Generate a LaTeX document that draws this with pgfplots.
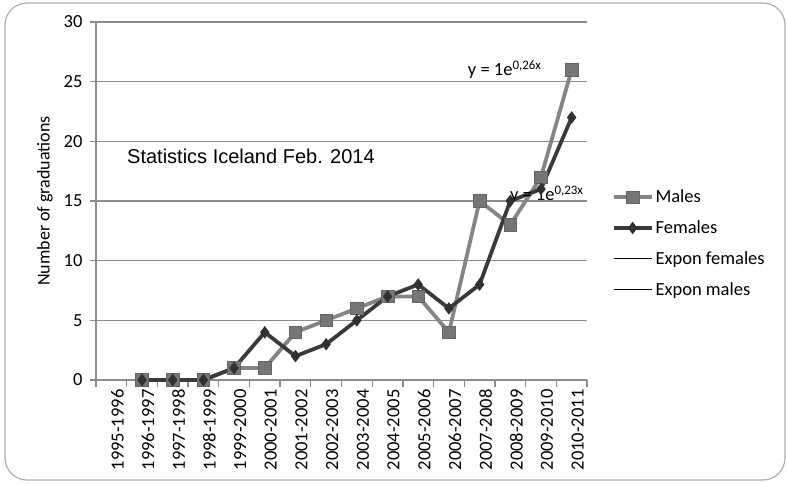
\documentclass[border=0pt]{standalone}
\usepackage{fontspec}
\setmainfont{Carlito}
\newfontfamily\arial{Liberation Sans}
\usepackage{pgfplots}
\pgfplotsset{compat=1.18}
\definecolor{malec}{HTML}{858585}
\definecolor{malem}{HTML}{767676}
\definecolor{femc}{HTML}{3A3A3A}
\definecolor{gridc}{HTML}{8C8C8C}
\begin{document}
\begin{tikzpicture}[x=1pt,y=1pt]
\useasboundingbox (0,0) rectangle (787,483);
\draw[gridc!70, line width=1.2pt, rounded corners=22pt] (5,3) rectangle (785,480);
\begin{axis}[
  at={(96pt,103pt)}, anchor=south west,
  scale only axis, width=491pt, height=358pt,
  xmin=-0.5, xmax=15.5, ymin=0, ymax=30,
  axis x line*=bottom, axis y line*=left,
  axis line style={gridc, line width=1.3pt, -},
  xtick={0,...,15},
  xticklabels={1995-1996,1996-1997,1997-1998,1998-1999,1999-2000,2000-2001,2001-2002,2002-2003,2003-2004,2004-2005,2005-2006,2006-2007,2007-2008,2008-2009,2009-2010,2010-2011},
  major x tick style={draw=none},
  minor xtick={-0.5,0.5,...,15.5},
  minor x tick style={gridc, line width=1.3pt},
  minor tick length=7pt,
  tick align=outside,
  ytick={0,5,...,30},
  major y tick style={gridc, line width=1.3pt},
  major tick length=6pt,
  ymajorgrids, grid style={gridc, line width=1.2pt},
  xticklabel style={rotate=90, anchor=east, yshift=-6pt, font=\fontsize{18.5}{20}\selectfont},
  yticklabel style={font=\fontsize{18.5}{20}\selectfont, xshift=-4pt},
  /pgf/number format/assume math mode=true,
  ylabel={Number of graduations},
  ylabel style={at={(axis description cs:-0.104,0.5)}, anchor=center, font=\fontsize{18}{20}\selectfont},
  legend style={at={(axis description cs:1.05,0.537)}, anchor=north west, draw=none, fill=none,
    font=\fontsize{18.5}{20}\selectfont, row sep=12.5pt, inner sep=0pt,
    /tikz/every even column/.append style={column sep=0pt}},
  legend cell align=left,
  legend image code/.code={\draw[#1] (0pt,0pt) -- (38pt,0pt); \draw[#1, mark repeat=2, mark phase=2] plot coordinates {(0pt,0pt) (19pt,0pt) (38pt,0pt)};},
  clip=false,
]
\addplot[malec, line width=3.8pt, mark=square*, mark size=6.3pt,
  mark options={fill=malem, draw=malem!85!black, line width=0.6pt}] coordinates {
(1,0) (2,0) (3,0) (4,1) (5,1) (6,4) (7,5) (8,6) (9,7) (10,7) (11,4) (12,15) (13,13) (14,17) (15,26)};
\addlegendentry{Males}
\addplot[femc, line width=3.8pt, mark=diamond*, mark size=5.8pt,
  mark options={fill=femc!85!black, draw=femc!85!black, line width=0.6pt}] coordinates {
(1,0) (2,0) (3,0) (4,1) (5,4) (6,2) (7,3) (8,5) (9,7) (10,8) (11,6) (12,8) (13,15) (14,16) (15,22)};
\addlegendentry{Females}
\addlegendimage{black, line width=1.2pt, legend image code/.code={\draw[black, line width=1.2pt] (0pt,0pt) -- (38pt,0pt);}}
\addlegendentry{Expon females}
\addlegendimage{black, line width=1.2pt, legend image code/.code={\draw[black, line width=1.2pt] (0pt,0pt) -- (38pt,0pt);}}
\addlegendentry{Expon males}
\node[font=\arial\fontsize{20}{22}\selectfont, anchor=center] at (axis cs:4.55,18.7) {Statistics Iceland Feb. 2014};
\node[font=\fontsize{18.5}{20}\selectfont, anchor=center, inner sep=0pt] at (axis cs:12.82,26) {y = 1e\textsuperscript{0,26x}};
\node[font=\fontsize{18.5}{20}\selectfont, anchor=center, inner sep=0pt] at (axis cs:14.19,15.5) {y = 1e\textsuperscript{0,23x}};
\end{axis}
\end{tikzpicture}
\end{document}
